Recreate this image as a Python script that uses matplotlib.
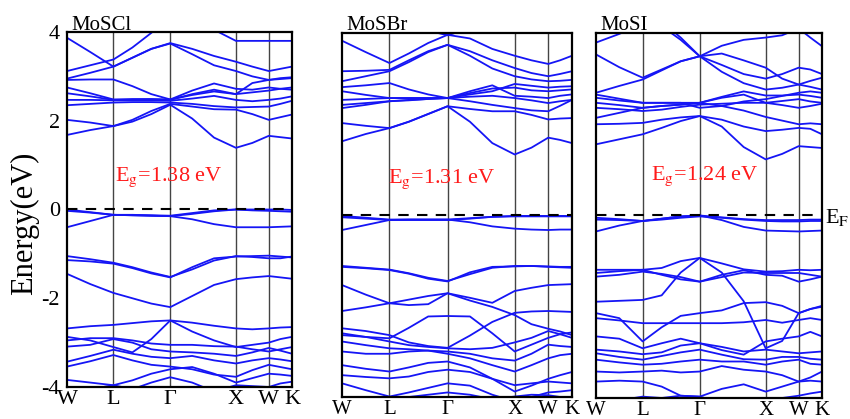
import matplotlib.pyplot as plt
import numpy as np

plt.rcParams['font.family'] = ['Liberation Serif', 'DejaVu Serif']
plt.rcParams['mathtext.fontset'] = 'stix'

# k-path W-L-G-X-W-K (fcc), points per segment
kpath_labels = ['W', 'L', 'Γ', 'X', 'W', 'K']
seg_len = [0.707, 0.866, 1.0, 0.5, 0.354]
seg_div = [2, 3, 3, 2, 2]

titles = ['MoSCl', 'MoSBr', 'MoSI']
gaps = ['1.38', '1.31', '1.24']

# energies (eV) at W, .., L, .., .., G, .., .., X, .., W, .., K
moscl_cb = [
    [1.68, 1.79, 1.88, 1.98, 2.15, 2.36, 2.05, 1.62, 1.39, 1.50, 1.66, 1.63, 1.60],
    [2.02, 1.96, 1.88, 2.02, 2.22, 2.38, 2.32, 2.26, 2.25, 2.15, 2.02, 2.08, 2.14],
    [2.35, 2.38, 2.41, 2.42, 2.42, 2.41, 2.38, 2.33, 2.30, 2.31, 2.32, 2.38, 2.45],
    [2.47, 2.47, 2.46, 2.46, 2.46, 2.45, 2.50, 2.56, 2.47, 2.44, 2.47, 2.50, 2.55],
    [2.62, 2.55, 2.47, 2.47, 2.48, 2.47, 2.60, 2.70, 2.60, 2.64, 2.68, 2.72, 2.75],
    [2.75, 2.62, 2.48, 2.49, 2.49, 2.48, 2.68, 2.84, 2.72, 2.70, 2.75, 2.72, 2.70],
    [2.92, 2.93, 2.93, 2.78, 2.60, 2.48, 2.58, 2.66, 2.60, 2.85, 2.92, 2.96, 2.98],
    [3.12, 3.25, 3.38, 3.65, 3.98, 4.35, 4.30, 4.05, 3.80, 3.80, 3.80, 3.80, 3.80],
    [3.87, 3.55, 3.22, 3.42, 3.62, 3.75, 3.62, 3.46, 3.33, 3.22, 3.12, 3.17, 3.22],
    [2.95, 3.08, 3.22, 3.42, 3.62, 3.74, 3.50, 3.25, 3.12, 3.00, 2.92, 2.94, 2.96],
]
moscl_vb = [
    [0.00, -0.06, -0.12, -0.13, -0.14, -0.15, -0.10, -0.04, 0.00, 0.00, 0.00, 0.00, -0.01],
    [-0.03, -0.07, -0.12, -0.13, -0.14, -0.15, -0.22, -0.33, -0.40, -0.40, -0.40, -0.39, -0.38],
    [-0.40, -0.26, -0.12, -0.12, -0.13, -0.14, -0.08, -0.02, 0.00, -0.02, -0.03, -0.04, -0.05],
    [-1.05, -1.12, -1.20, -1.30, -1.42, -1.52, -1.35, -1.15, -1.05, -1.07, -1.10, -1.10, -1.06],
    [-1.14, -1.17, -1.22, -1.32, -1.44, -1.53, -1.30, -1.10, -1.06, -1.05, -1.04, -1.06, -1.08],
    [-1.45, -1.68, -1.88, -2.00, -2.12, -2.20, -1.95, -1.70, -1.57, -1.53, -1.50, -1.53, -1.56],
    [-2.68, -2.63, -2.60, -2.56, -2.52, -2.50, -2.55, -2.62, -2.68, -2.70, -2.68, -2.66, -2.65],
    [-2.87, -2.95, -3.10, -3.22, -2.92, -2.50, -2.75, -2.95, -3.10, -3.05, -3.00, -2.92, -2.87],
    [-2.95, -2.90, -2.90, -2.95, -3.02, -3.05, -3.05, -3.08, -3.09, -3.15, -3.20, -3.15, -3.10],
    [-3.09, -3.05, -2.92, -3.00, -3.15, -3.20, -3.22, -3.25, -3.30, -3.22, -3.12, -3.18, -3.25],
    [-3.43, -3.30, -3.16, -3.25, -3.32, -3.35, -3.30, -3.40, -3.47, -3.40, -3.35, -3.38, -3.42],
    [-3.54, -3.42, -3.28, -3.40, -3.50, -3.54, -3.60, -3.72, -3.77, -3.62, -3.50, -3.55, -3.60],
    [-3.84, -3.90, -3.96, -3.85, -3.70, -3.60, -3.55, -3.70, -3.90, -3.80, -3.70, -3.72, -3.75],
    [-4.20, -4.05, -3.96, -4.05, -3.90, -3.78, -3.90, -4.10, -3.96, -3.98, -4.00, -3.92, -3.88],
]

mosbr_cb = [
    [1.62, 1.78, 1.91, 2.05, 2.22, 2.39, 2.05, 1.58, 1.33, 1.48, 1.70, 1.65, 1.58],
    [2.02, 1.96, 1.91, 2.05, 2.22, 2.39, 2.33, 2.28, 2.28, 2.20, 2.10, 2.12, 2.13],
    [2.35, 2.42, 2.50, 2.52, 2.55, 2.57, 2.50, 2.42, 2.35, 2.30, 2.28, 2.40, 2.53],
    [2.42, 2.46, 2.50, 2.53, 2.55, 2.57, 2.60, 2.62, 2.57, 2.52, 2.46, 2.50, 2.53],
    [2.53, 2.55, 2.57, 2.57, 2.57, 2.57, 2.72, 2.85, 2.62, 2.60, 2.57, 2.62, 2.65],
    [2.72, 2.64, 2.57, 2.57, 2.57, 2.57, 2.68, 2.78, 2.80, 2.74, 2.72, 2.74, 2.76],
    [2.81, 2.85, 2.90, 2.76, 2.65, 2.57, 2.65, 2.72, 2.88, 2.84, 2.80, 2.82, 2.83],
    [2.94, 3.05, 3.16, 3.36, 3.58, 3.74, 3.50, 3.22, 3.05, 2.98, 2.94, 2.95, 2.97],
    [3.16, 3.17, 3.19, 3.40, 3.60, 3.74, 3.60, 3.40, 3.23, 3.12, 3.05, 3.10, 3.16],
    [3.83, 3.58, 3.34, 3.55, 3.78, 3.96, 3.88, 3.65, 3.50, 3.40, 3.32, 3.40, 3.50],
    [4.50, 4.40, 4.30, 4.20, 4.05, 3.95, 4.10, 4.30, 4.40, 4.40, 4.40, 4.40, 4.40],
]
mosbr_vb = [
    [-0.02, -0.06, -0.10, -0.10, -0.10, -0.10, -0.07, -0.04, -0.02, -0.02, -0.02, -0.02, -0.02],
    [-0.33, -0.22, -0.11, -0.10, -0.10, -0.10, -0.16, -0.25, -0.30, -0.32, -0.33, -0.32, -0.32],
    [-0.05, -0.08, -0.11, -0.11, -0.11, -0.11, -0.08, -0.04, -0.03, -0.03, -0.03, -0.03, -0.03],
    [-1.12, -1.16, -1.20, -1.28, -1.38, -1.45, -1.30, -1.16, -1.12, -1.12, -1.13, -1.14, -1.14],
    [-1.14, -1.17, -1.21, -1.29, -1.40, -1.46, -1.26, -1.14, -1.13, -1.12, -1.14, -1.15, -1.16],
    [-1.54, -1.75, -1.94, -1.86, -1.78, -1.72, -1.82, -1.93, -1.67, -1.60, -1.54, -1.53, -1.52],
    [-2.11, -2.03, -1.94, -1.98, -1.96, -1.72, -1.88, -2.02, -2.20, -2.40, -2.50, -2.56, -2.64],
    [-2.64, -2.68, -2.71, -2.48, -2.23, -2.22, -2.23, -2.60, -3.00, -2.85, -2.70, -2.62, -2.58],
    [-2.49, -2.55, -2.64, -2.80, -2.88, -2.92, -2.65, -2.35, -2.15, -2.12, -2.11, -2.12, -2.13],
    [-2.60, -2.68, -2.78, -2.86, -2.90, -2.93, -2.95, -2.92, -2.80, -2.70, -2.55, -2.62, -2.70],
    [-2.78, -2.86, -2.93, -2.95, -2.98, -3.00, -3.05, -3.15, -3.20, -3.05, -2.85, -2.88, -2.90],
    [-3.00, -3.05, -3.05, -3.00, -2.98, -3.05, -3.15, -3.30, -3.44, -3.30, -3.15, -3.08, -3.05],
    [-3.30, -3.38, -3.44, -3.35, -3.25, -3.22, -3.35, -3.60, -3.88, -3.75, -3.60, -3.52, -3.45],
    [-3.52, -3.56, -3.59, -3.55, -3.45, -3.40, -3.45, -3.60, -3.74, -3.70, -3.66, -3.68, -3.70],
    [-3.70, -3.85, -3.99, -3.90, -3.80, -3.70, -3.75, -3.95, -4.10, -4.00, -3.90, -3.88, -3.85],
    [-4.20, -4.10, -4.05, -4.00, -3.95, -3.90, -3.95, -4.05, -3.99, -3.95, -3.96, -4.00, -4.05],
]

mosi_cb = [
    [1.56, 1.67, 1.78, 1.92, 2.07, 2.18, 1.95, 1.50, 1.23, 1.35, 1.52, 1.50, 1.48],
    [2.00, 2.01, 2.03, 2.10, 2.15, 2.18, 2.10, 1.95, 1.85, 1.88, 1.92, 1.90, 1.78],
    [2.14, 2.25, 2.36, 2.40, 2.43, 2.47, 2.40, 2.30, 2.16, 2.08, 2.00, 2.02, 2.00],
    [2.36, 2.33, 2.29, 2.32, 2.38, 2.43, 2.45, 2.47, 2.47, 2.42, 2.36, 2.40, 2.45],
    [2.47, 2.42, 2.36, 2.40, 2.43, 2.47, 2.58, 2.65, 2.47, 2.51, 2.55, 2.50, 2.47],
    [2.58, 2.52, 2.47, 2.47, 2.47, 2.47, 2.60, 2.72, 2.63, 2.63, 2.65, 2.62, 2.58],
    [2.65, 2.56, 2.47, 2.47, 2.47, 2.36, 2.40, 2.50, 2.55, 2.62, 2.69, 2.72, 2.69],
    [2.69, 2.84, 2.98, 3.18, 3.38, 3.49, 3.15, 2.90, 2.76, 2.80, 2.87, 2.82, 2.76],
    [3.53, 3.25, 3.02, 3.20, 3.38, 3.49, 3.55, 3.40, 3.24, 3.00, 2.87, 2.95, 3.02],
    [3.79, 3.98, 4.20, 4.25, 3.90, 3.49, 3.72, 3.85, 3.90, 3.95, 4.10, 3.90, 3.71],
    [4.40, 4.30, 4.20, 4.15, 3.85, 3.49, 3.30, 3.10, 3.00, 3.10, 3.24, 3.20, 3.10],
]
mosi_vb = [
    [-0.09, -0.10, -0.12, -0.07, -0.02, 0.00, -0.04, -0.08, -0.10, -0.10, -0.10, -0.09, -0.09],
    [-0.35, -0.22, -0.12, -0.07, -0.02, 0.00, -0.10, -0.25, -0.33, -0.34, -0.35, -0.34, -0.33],
    [-0.05, -0.08, -0.12, -0.09, -0.05, -0.02, -0.05, -0.09, -0.12, -0.13, -0.13, -0.12, -0.12],
    [-1.19, -1.19, -1.19, -1.15, -1.00, -0.93, -1.05, -1.18, -1.23, -1.22, -1.19, -1.20, -1.19],
    [-1.26, -1.22, -1.19, -1.30, -1.40, -1.45, -1.35, -1.25, -1.26, -1.26, -1.26, -1.30, -1.34],
    [-1.34, -1.30, -1.23, -1.28, -1.35, -1.45, -1.30, -1.20, -1.30, -1.32, -1.45, -1.40, -1.34],
    [-1.89, -1.87, -1.85, -1.75, -1.25, -0.93, -1.25, -1.88, -2.91, -2.75, -2.14, -2.05, -1.98],
    [-2.14, -2.25, -2.76, -2.45, -2.20, -2.14, -2.08, -1.92, -1.90, -1.98, -2.14, -2.05, -2.00],
    [-2.25, -2.30, -2.36, -2.36, -2.36, -2.36, -2.36, -2.34, -2.29, -2.35, -2.29, -2.25, -2.29],
    [-2.65, -2.70, -2.91, -2.80, -2.70, -2.80, -2.95, -3.05, -2.76, -2.70, -2.65, -2.55, -2.65],
    [-2.94, -2.98, -3.04, -3.00, -2.85, -2.80, -2.88, -2.98, -2.94, -2.98, -3.02, -3.00, -2.98],
    [-3.02, -3.10, -3.16, -3.08, -3.00, -2.94, -3.05, -3.15, -3.16, -3.10, -3.10, -3.14, -3.16],
    [-3.16, -3.22, -3.27, -3.25, -3.20, -3.16, -3.20, -3.20, -3.27, -3.20, -3.16, -3.25, -3.27],
    [-3.42, -3.44, -3.42, -3.40, -3.44, -3.42, -3.30, -3.38, -3.42, -3.50, -3.64, -3.55, -3.42],
    [-3.64, -3.62, -3.64, -3.75, -3.95, -3.97, -3.80, -3.70, -3.86, -3.75, -3.64, -3.62, -3.64],
    [-4.20, -4.05, -3.97, -4.00, -3.95, -3.97, -4.10, -4.20, -4.10, -4.00, -3.95, -3.90, -3.86],
]

bands = [moscl_cb + moscl_vb, mosbr_cb + mosbr_vb, mosi_cb + mosi_vb]

# k coordinates of the sample points
k = [0.0]
for L, n in zip(seg_len, seg_div):
    start = k[-1]
    for i in range(1, n + 1):
        k.append(start + L * i / n)
k = np.array(k)
kticks = np.concatenate([[0], np.cumsum(seg_len)])

fig = plt.figure(figsize=(8.5, 4.19), dpi=100)
W, H = 850, 419
rects = [(67, 32, 292, 387), (342, 33, 572, 397), (596, 33, 822, 398)]  # px: left, top, right, bottom

for i, (x0, y0, x1, y1) in enumerate(rects):
    ax = fig.add_axes([x0 / W, 1 - y1 / H, (x1 - x0) / W, (y1 - y0) / H])
    for kx in kticks[1:-1]:
        ax.axvline(kx, color='#444444', lw=1.0, zorder=1)
    for b in bands[i]:
        ax.plot(k, b, color='#1515f5', lw=1.3, zorder=2, solid_joinstyle='round')
    ax.axhline(0, color='black', ls='--', lw=1.5, dashes=(5, 4), zorder=3)
    ax.set_xlim(0, kticks[-1])
    ax.set_ylim(-4, 4)
    ax.set_xticks(kticks)
    ax.set_xticklabels(kpath_labels, fontsize=15 if i else 16)
    ax.tick_params(axis='x', length=0, pad=2)
    if i == 0:
        ax.set_yticks([-4, -2, 0, 2, 4])
        ax.set_yticklabels(['-4', '-2', '0', '2', '4'], fontsize=16)
        ax.tick_params(axis='y', length=0, pad=5)
    else:
        ax.set_yticks([])
    for s in ax.spines.values():
        s.set_linewidth(1.6)
    fig.text((x0 + 4) / W, 1 - 30 / H, titles[i], fontsize=15, ha='left', va='baseline')

# band gap labels
gap_pos = [(169, 177), (442, 179), (705, 176)]
for (gx, gy), g in zip(gap_pos, gaps):
    fig.text(gx / W, 1 - gy / H, r'E$_{\rm g}$=' + g + ' eV', color='#ff1a1a',
             fontsize=16, ha='center', va='center')

fig.text(25 / W, 1 - 223 / H, 'Energy(eV)', rotation=90, fontsize=22, ha='center', va='center')
fig.text(825 / W, 1 - 223 / H, r'E$_{\rm F}$', fontsize=16, ha='left', va='baseline')

fig.savefig('out.png', dpi=100)
